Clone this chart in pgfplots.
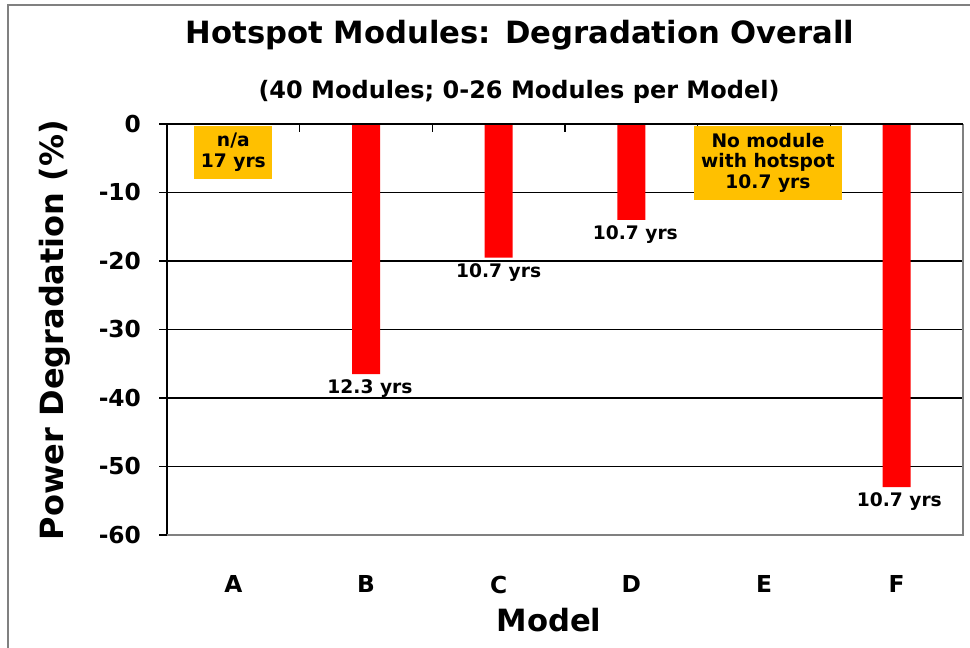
\documentclass[border=0pt]{standalone}
\usepackage{fontspec}
\setmainfont{DejaVu Sans}
\usepackage{pgfplots}
\pgfplotsset{compat=1.18}
\definecolor{barred}{RGB}{255,0,0}
\definecolor{boxorange}{RGB}{255,192,0}
\definecolor{framegray}{RGB}{128,128,128}
\begin{document}
\begin{tikzpicture}[x=0.75pt,y=0.75pt]
\path[use as bounding box] (0,0) rectangle (970,648);
% outer frame (left and top visible)
\draw[framegray,line width=1.2pt] (8,-5) -- (8,643) -- (975,643);
\begin{axis}[
  at={(125.25pt,84.75pt)}, anchor=south west,
  scale only axis, width=597pt, height=308.25pt,
  xmin=-0.5, xmax=5.5, ymin=-60, ymax=0,
  xtick={0,...,5}, xticklabels={A,B,C,D,E,F},
  ytick={-60,-50,...,0},
  axis line style={draw=none},
  ymajorgrids, grid style={black,line width=0.9pt},
  xtick style={draw=none},
  ytick style={black,line width=0.9pt},
  tick align=outside, major tick length=6pt,
  ytick pos=left, xtick pos=bottom,
  font=\bfseries,
  /pgf/number format/assume math mode=true,
  ticklabel style={font=\fontsize{17.5}{20}\selectfont\bfseries},
  xticklabel style={yshift=-21pt},
  yticklabel style={xshift=-10pt},
  clip=false,
]
\addplot[ybar, bar width=21pt, fill=barred, draw=none] coordinates {
  (1,-36.5) (2,-19.5) (3,-14.0) (5,-53.0)
};
% axis lines
\draw[black,line width=1.2pt] (axis cs:-0.5,0) -- (axis cs:-0.5,-60);
\draw[framegray,line width=1.2pt] (axis cs:-0.5,-60) -- (axis cs:5.5,-60) -- (axis cs:5.5,0);
\draw[black,line width=1.2pt] (axis cs:-0.5,0) -- (axis cs:5.5,0);
\pgfplotsinvokeforeach{0.5,1.5,2.5,3.5,4.5}{
  \draw[black,line width=0.9pt] (axis cs:#1,0) -- ++(0pt,-6pt);
}
% bar labels
\begin{scope}[font=\fontsize{14}{16}\selectfont\bfseries]
\node[anchor=north,inner sep=1pt] at (axis cs:1.03,-37.1) {12.3 yrs};
\node[anchor=north,inner sep=1pt] at (axis cs:2,-20.1) {10.7 yrs};
\node[anchor=north,inner sep=1pt] at (axis cs:3.03,-14.6) {10.7 yrs};
\node[anchor=north,inner sep=1pt] at (axis cs:5.02,-53.6) {10.7 yrs};
% orange boxes
\node[anchor=north, fill=boxorange, minimum width=58.5pt, minimum height=39.75pt, align=center, inner sep=2pt, font=\fontsize{14}{16}\selectfont\bfseries] at (axis cs:0,-0.2) {n/a\\17 yrs};
\node[anchor=north, fill=boxorange, minimum width=111pt, minimum height=55.5pt, align=center, inner sep=2pt, font=\fontsize{14}{15.5}\selectfont\bfseries] at (axis cs:4.03,-0.2) {No module\\with hotspot\\10.7 yrs};
\end{scope}
\end{axis}
% titles
\node[font=\fontsize{23}{27}\selectfont\bfseries] at (520,613) {Hotspot Modules: Degradation Overall};
\node[font=\fontsize{18}{22}\selectfont\bfseries] at (519,556) {(40 Modules; 0-26 Modules per Model)};
\node[font=\fontsize{23}{27}\selectfont\bfseries] at (549,28) {Model};
\node[font=\fontsize{24}{28}\selectfont\bfseries, rotate=90] at (55,318) {Power Degradation (\%)};
\end{tikzpicture}
\end{document}
